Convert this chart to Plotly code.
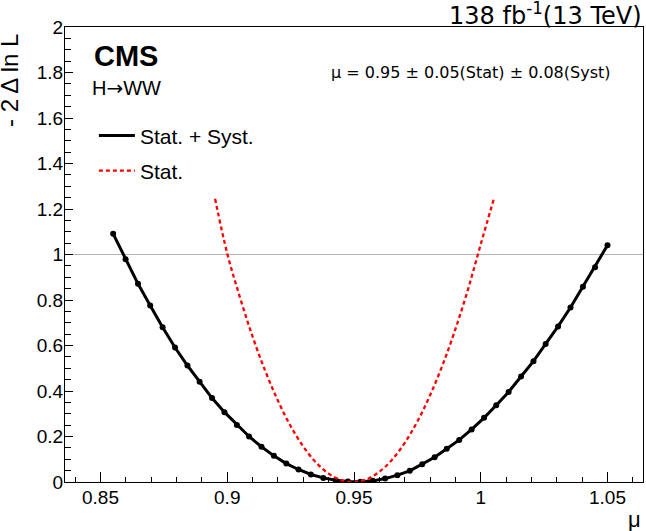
import plotly.graph_objects as go

# Stat. + Syst. scan
mu_full = [0.8550, 0.8599, 0.8648, 0.8696, 0.8745, 0.8794, 0.8843, 0.8891, 0.8940, 0.8989,
           0.9038, 0.9086, 0.9135, 0.9184, 0.9233, 0.9281, 0.9330, 0.9379, 0.9428, 0.9476,
           0.9525, 0.9574, 0.9623, 0.9671, 0.9720, 0.9769, 0.9818, 0.9866, 0.9915, 0.9964,
           1.0013, 1.0061, 1.0110, 1.0159, 1.0208, 1.0256, 1.0305, 1.0354, 1.0403, 1.0451,
           1.0500]
nll_full = [1.091, 0.979, 0.871, 0.776, 0.680, 0.591, 0.512, 0.441, 0.369, 0.307,
            0.251, 0.200, 0.155, 0.115, 0.081, 0.055, 0.033, 0.018, 0.008, 0.002,
            0.001, 0.005, 0.015, 0.030, 0.049, 0.078, 0.109, 0.146, 0.185, 0.231,
            0.282, 0.337, 0.396, 0.464, 0.531, 0.607, 0.684, 0.767, 0.858, 0.944,
            1.041]

# Stat.-only scan
mu_stat = [0.8952, 0.900, 0.905, 0.910, 0.915, 0.920, 0.925, 0.930, 0.935, 0.940,
           0.945, 0.9495, 0.955, 0.960, 0.965, 0.970, 0.975, 0.980, 0.985, 0.990,
           0.995, 1.000, 1.0053]
nll_stat = [1.245, 1.004, 0.812, 0.639, 0.488, 0.357, 0.246, 0.156, 0.086, 0.037,
            0.008, 0.000, 0.012, 0.045, 0.098, 0.172, 0.266, 0.381, 0.516, 0.672,
            0.848, 1.045, 1.250]

x_ticks = [0.85, 0.9, 0.95, 1.0, 1.05]
x_ticklabels = ["0.85", "0.9", "0.95", "1", "1.05"]
y_ticks = [0, 0.2, 0.4, 0.6, 0.8, 1.0, 1.2, 1.4, 1.6, 1.8, 2.0]
y_ticklabels = ["0", "0.2", "0.4", "0.6", "0.8", "1", "1.2", "1.4", "1.6", "1.8", "2"]

AX_FONT = "Liberation Sans, Arial, sans-serif"
TXT_FONT = "DejaVu Sans, Verdana, sans-serif"

fig = go.Figure()
fig.add_trace(go.Scatter(x=mu_full, y=nll_full, mode="lines",
                         line=dict(color="black", width=3),
                         name="Stat. + Syst.", legendgroup="a", hoverinfo="skip"))
fig.add_trace(go.Scatter(x=mu_full, y=nll_full, mode="markers",
                         marker=dict(color="black", size=6),
                         showlegend=False, hoverinfo="skip"))
fig.add_trace(go.Scatter(x=mu_stat, y=nll_stat, mode="lines",
                         line=dict(color="#ff0000", width=2.3, dash="4px,3px", shape="spline"),
                         name="Stat.", legendgroup="b", hoverinfo="skip"))

fig.add_hline(y=1, line=dict(color="#b4b4b4", width=1.2), layer="below")

fig.update_layout(
    width=646, height=531,
    margin=dict(l=65, r=3, t=27, b=49),
    paper_bgcolor="white", plot_bgcolor="white",
    showlegend=True,
    legend=dict(x=0.050, y=0.806, xanchor="left", yanchor="top", itemwidth=36,
                bgcolor="rgba(0,0,0,0)", font=dict(family=AX_FONT, size=21, color="black"),
                traceorder="grouped", tracegroupgap=5),
    xaxis=dict(range=[0.836, 1.064], tickvals=x_ticks, ticktext=x_ticklabels,
               ticks="inside", ticklen=10, tickwidth=1, tickcolor="black",
               minor=dict(dtick=0.01, tick0=0.85, ticks="inside", ticklen=5, tickcolor="black"),
               showline=True, linecolor="black", linewidth=1.2, mirror=True,
               showgrid=False, zeroline=False, ticklabelstandoff=-2,
               tickfont=dict(family=AX_FONT, size=19, color="black")),
    yaxis=dict(range=[0, 2], tickvals=y_ticks, ticktext=y_ticklabels,
               ticks="inside", ticklen=8, tickwidth=1, tickcolor="black",
               minor=dict(dtick=0.05, tick0=0, ticks="inside", ticklen=6, tickcolor="black"),
               showline=True, linecolor="black", linewidth=1.2, mirror=True,
               showgrid=False, zeroline=False, ticklabelstandoff=-3,
               tickfont=dict(family=AX_FONT, size=19, color="black")),
)

annotations = [
    dict(text="<b>CMS</b>", x=0.046, y=0.936, xref="paper", yref="paper",
         xanchor="left", yanchor="middle", showarrow=False,
         font=dict(family=AX_FONT, size=29, color="black")),
    dict(text="H<span style=\"font-family:DejaVu Sans\">\u2192</span>WW", x=0.044, y=0.867,
         xref="paper", yref="paper",
         xanchor="left", yanchor="middle", showarrow=False,
         font=dict(family=AX_FONT, size=20, color="black")),
    dict(text="\u03bc = 0.95 \u00b1 0.05(Stat) \u00b1 0.08(Syst)", x=0.948, y=0.90,
         xref="paper", yref="paper", xanchor="right", yanchor="middle", showarrow=False,
         font=dict(family=TXT_FONT, size=16, color="black")),
    dict(text="138 fb<sup>-1</sup>(13 TeV)", x=1.0, y=1.0286, xref="paper", yref="paper",
         xanchor="right", yanchor="middle", showarrow=False, xshift=1,
         font=dict(family=TXT_FONT, size=24, color="black")),
    dict(text="- 2 \u0394 ln L", x=-0.097, y=0.99, xref="paper", yref="paper",
         xanchor="center", yanchor="top", textangle=-90, showarrow=False,
         font=dict(family=AX_FONT, size=24, color="black")),
    dict(text="\u03bc", x=1.0, y=-0.082, xref="paper", yref="paper",
         xanchor="right", yanchor="middle", showarrow=False,
         font=dict(family=AX_FONT, size=22, color="black")),
]
fig.update_layout(annotations=annotations)

fig.write_html("out.html", config={"displayModeBar": False},
               post_script="document.body.style.margin='0';document.body.style.padding='0';")
